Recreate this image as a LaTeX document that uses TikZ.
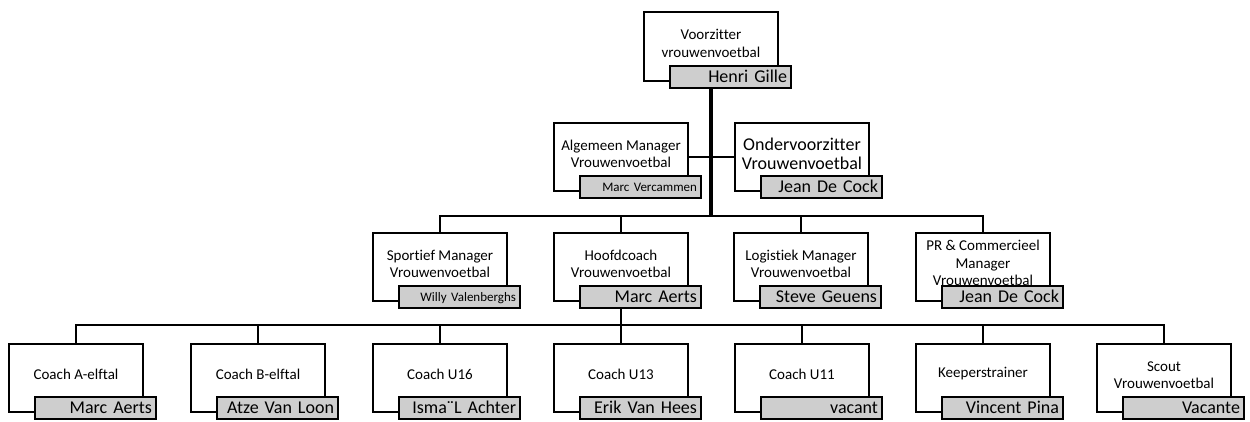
\documentclass[tikz,border=0pt]{standalone}
\usepackage{fontspec}
\setmainfont[Ligatures=NoCommon]{Carlito}
\definecolor{naamgrijs}{RGB}{206,206,206}
\tikzset{
    post/.style={draw,line width=2pt,fill=white,anchor=north west,minimum width=134pt,minimum height=68pt,inner sep=0pt},
    titel/.style={align=center,inner sep=0pt,font=\fontsize{15}{17.5}\selectfont},
    groot/.style={font=\fontsize{18}{19}\selectfont},
    naam/.style={draw,line width=2pt,fill=naamgrijs,anchor=south east,text width=113pt,align=right,inner xsep=4pt,inner ysep=0pt,minimum height=22pt,text height=11pt,text depth=0pt,font=\fontsize{18}{20}\selectfont},
    klein/.style={font=\fontsize{13}{15}\selectfont,text height=8.5pt},
    lijn/.style={line width=2.5pt},
    stam/.style={line width=3.5pt}
}
\begin{document}
\begin{tikzpicture}[x=1pt,y=-1pt]
        \useasboundingbox[fill=white] (0,0) rectangle (1250,421);
        %% voorzitter
        \node[post,minimum height=69pt] (V) at (643,11) {};
        \node[titel] (Vt) at ([yshift=3pt]V.center) {Voorzitter\\vrouwenvoetbal};
        \node[naam] (Vn) at ([xshift=13pt,yshift=-7pt]V.south east) {Henri Gille};
        %% tweede rij
        \node[post] (A) at (553,122) {};
        \node[titel] (At) at ([yshift=3pt]A.center) {Algemeen Manager\\Vrouwenvoetbal};
        \node[naam,klein] (An) at ([xshift=13pt,yshift=-7pt]A.south east) {Marc Vercammen};
        \node[post] (O) at (734,122) {};
        \node[titel,groot] (Ot) at ([yshift=3pt]O.center) {Ondervoorzitter\\Vrouwenvoetbal};
        \node[naam] (On) at ([xshift=13pt,yshift=-7pt]O.south east) {Jean De Cock};
        %% derde rij
        \node[post] (S) at (372,232) {};
        \node[titel] (St) at ([yshift=3pt]S.center) {Sportief Manager\\Vrouwenvoetbal};
        \node[naam,klein] (Sn) at ([xshift=13pt,yshift=-7pt]S.south east) {Willy Valenberghs};
        \node[post] (H) at (553,232) {};
        \node[titel] (Ht) at ([yshift=3pt]H.center) {Hoofdcoach\\Vrouwenvoetbal};
        \node[naam] (Hn) at ([xshift=13pt,yshift=-7pt]H.south east) {Marc Aerts};
        \node[post] (L) at (733,232) {};
        \node[titel] (Lt) at ([yshift=3pt]L.center) {Logistiek Manager\\Vrouwenvoetbal};
        \node[naam] (Ln) at ([xshift=13pt,yshift=-7pt]L.south east) {Steve Geuens};
        \node[post] (PR) at (915,232) {};
        \node[titel] (PRt) at ([yshift=4pt]PR.center) {PR \& Commercieel\\Manager\\Vrouwenvoetbal};
        \node[naam] (PRn) at ([xshift=13pt,yshift=-7pt]PR.south east) {Jean De Cock};
        %% coaches
        \node[post] (CA) at (8,343) {};
        \node[titel] (CAt) at ([yshift=4pt]CA.center) {Coach A-elftal};
        \node[naam] (CAn) at ([xshift=13pt,yshift=-7pt]CA.south east) {Marc Aerts};
        \node[post] (CB) at (190,343) {};
        \node[titel] (CBt) at ([yshift=4pt]CB.center) {Coach B-elftal};
        \node[naam] (CBn) at ([xshift=13pt,yshift=-7pt]CB.south east) {Atze Van Loon};
        \node[post] (C16) at (372,343) {};
        \node[titel] (C16t) at ([yshift=4pt]C16.center) {Coach U16};
        \node[naam] (C16n) at ([xshift=13pt,yshift=-7pt]C16.south east) {Isma¨L Achter};
        \node[post] (C13) at (553,343) {};
        \node[titel] (C13t) at ([yshift=4pt]C13.center) {Coach U13};
        \node[naam] (C13n) at ([xshift=13pt,yshift=-7pt]C13.south east) {Erik Van Hees};
        \node[post] (C11) at (734,343) {};
        \node[titel] (C11t) at ([yshift=4pt]C11.center) {Coach U11};
        \node[naam] (C11n) at ([xshift=13pt,yshift=-7pt]C11.south east) {vacant};
        \node[post] (KT) at (915,343) {};
        \node[titel] (KTt) at ([yshift=4pt]KT.center) {Keeperstrainer};
        \node[naam] (KTn) at ([xshift=13pt,yshift=-7pt]KT.south east) {Vincent Pina};
        \node[post] (SC) at (1096,343) {};
        \node[titel] (SCt) at ([yshift=3pt]SC.center) {Scout\\Vrouwenvoetbal};
        \node[naam] (SCn) at ([xshift=13pt,yshift=-7pt]SC.south east) {Vacante};
        %% lijnen
        \coordinate (bus3) at (711,216);
        \coordinate (bus4) at (621,325);
        \draw[stam] (V.center |- Vn.south) -- (bus3);
        \draw[lijn] (A.east) -- (O.west);
        \draw[lijn] (S.north) -- (S.north |- bus3) -- (PR.north |- bus3) -- (PR.north);
        \draw[lijn] (H.north) -- (H.north |- bus3);
        \draw[lijn] (L.north) -- (L.north |- bus3);
        \draw[lijn] (H.center |- Hn.south) -- (bus4);
        \draw[lijn] (CA.north) -- (CA.north |- bus4) -- (SC.north |- bus4) -- (SC.north);
        \foreach \c in {CB,C16,C13,C11,KT}
            \draw[lijn] (\c.north) -- (\c.north |- bus4);
    \end{tikzpicture}
\end{document}
